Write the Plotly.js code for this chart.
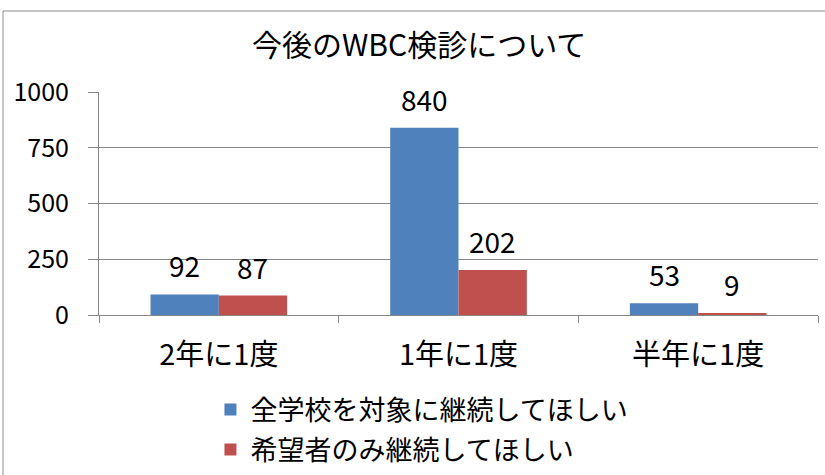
<!DOCTYPE html>
<html>
<head>
<meta charset="utf-8">
<script src="https://cdn.plot.ly/plotly-3.0.1.min.js"></script>
<style>
html,body{margin:0;padding:0;background:#fff;}
#chart{width:825px;height:475px;}
</style>
</head>
<body>
<div id="chart"></div>
<script>
const categories = ["2年に1度", "1年に1度", "半年に1度"];
const seriesNames = ["全学校を対象に継続してほしい", "希望者のみ継続してほしい"];
const allSchools = [92, 840, 53];
const applicantsOnly = [87, 202, 9];
const yTicks = [0, 250, 500, 750, 1000];
const chartTitle = "今後のWBC検診について";

const FONT = '"Noto Sans CJK JP", "Noto Sans", sans-serif';
const colors = ["#4F81BD", "#C0504D"];
const seriesValues = [allSchools, applicantsOnly];
const legendIds = ["legend", "legend2"];

const traces = seriesValues.map((vals, s) => ({
  type: "bar",
  name: seriesNames[s],
  x: categories,
  y: vals,
  marker: {color: colors[s]},
  legend: legendIds[s],
  hoverinfo: "skip"
}));

const annotations = [];
seriesValues.forEach((vals, s) => {
  vals.forEach((v, i) => {
    annotations.push({
      x: categories[i], y: v, xref: "x", yref: "y",
      text: String(v), showarrow: false,
      xshift: s === 0 ? -34 : 34, yshift: 7,
      yanchor: "bottom",
      font: {family: FONT, size: 28, color: "#000"}
    });
  });
});

function legendAt(centerPx) {
  return {
    orientation: "v", x: 0.155, xanchor: "left",
    xref: "paper",
    y: 1 - centerPx / 475, yref: "container", yanchor: "middle",
    font: {family: FONT, size: 27, color: "#000"},
    bgcolor: "rgba(0,0,0,0)", itemwidth: 30
  };
}

const layout = {
  width: 825, height: 475,
  margin: {l: 99, r: 7, t: 92, b: 160, autoexpand: false},
  paper_bgcolor: "#fff", plot_bgcolor: "#fff",
  title: {
    text: chartTitle, x: 0.508, xref: "container", xanchor: "center",
    y: 0.905, yref: "container", yanchor: "middle",
    font: {family: FONT, size: 30, color: "#000"}
  },
  barmode: "group",
  bargap: 0.43, bargroupgap: 0,
  xaxis: {
    type: "category",
    showline: true, linecolor: "#868686", linewidth: 1,
    ticks: "outside", tickson: "boundaries", ticklen: 7, tickcolor: "#868686",
    tickfont: {family: FONT, size: 29, color: "#000"},
    ticklabelstandoff: 14,
    showgrid: false, zeroline: false
  },
  yaxis: {
    range: [0, 1000], tickvals: yTicks, ticktext: yTicks.map(String),
    showline: true, linecolor: "#868686", linewidth: 1,
    ticks: "outside", ticklen: 10, tickcolor: "#868686",
    tickfont: {family: FONT, size: 25, color: "#000"},
    ticklabelstandoff: 14,
    showgrid: true, gridcolor: "#868686", gridwidth: 1,
    zeroline: false
  },
  showlegend: true,
  legend: legendAt(410),
  legend2: legendAt(450),
  annotations: annotations,
  shapes: [{
    type: "rect", xref: "paper", yref: "paper",
    x0: (3 - 99) / 719, x1: (840 - 99) / 719,
    y0: (315 - 490) / 223, y1: (315 - 11) / 223,
    line: {color: "#8c8c8c", width: 1}, fillcolor: "rgba(0,0,0,0)", layer: "below"
  }]
};

Plotly.newPlot("chart", traces, layout, {displayModeBar: false, staticPlot: true});
</script>
</body>
</html>
